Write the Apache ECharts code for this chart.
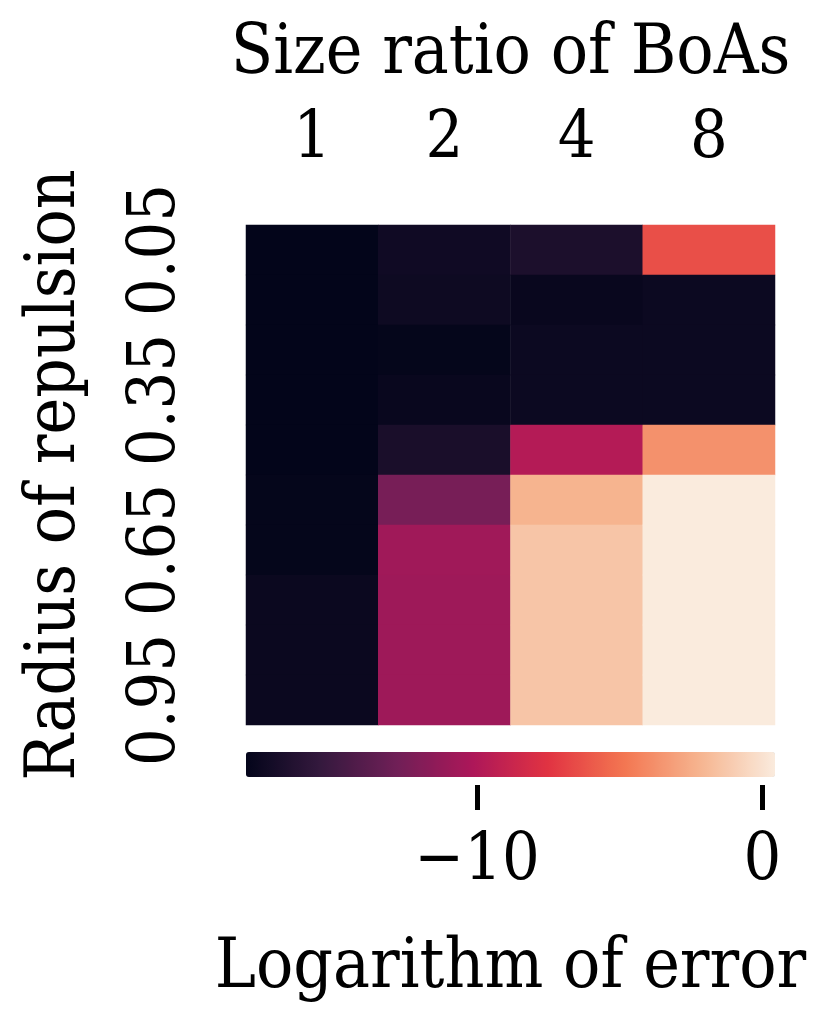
<!DOCTYPE html>
<html>
<head>
<meta charset="utf-8">
<script src="https://cdn.jsdelivr.net/npm/echarts@6/dist/echarts.min.js"></script>
<style>
  html, body { margin: 0; padding: 0; background: #fff; }
  #chart { width: 816px; height: 1021px; }
</style>
</head>
<body>
<div id="chart"></div>
<script>
  // size ratio of the basins (columns) and repulsion radius (rows)
  const ratios = ['1', '2', '4', '8']
  const radii = ['0.05', '0.15', '0.25', '0.35', '0.45', '0.55', '0.65', '0.75', '0.85', '0.95']
  // log of error, one array per size ratio, rows follow radii
  const err1 = [-18.1, -18.1, -18.1, -18.1, -18.1, -18.0, -18.0, -17.7, -17.7, -17.7]
  const err2 = [-17.4, -17.5, -18.0, -17.8, -16.9, -12.5, -10.7, -10.8, -10.8, -10.8]
  const err4 = [-16.8, -17.8, -17.6, -17.6, -9.8, -2.2, -1.4, -1.4, -1.4, -1.4]
  const err8 = [-6.4, -17.6, -17.6, -17.6, -3.7, 0.44, 0.44, 0.44, 0.44, 0.44]
  const cbTicks = [-10, 0]

  const rocket = ['#03051a', '#35193e', '#701f57', '#ad1759', '#e13342', '#f37651', '#f6b48f', '#faebdd']

  let cols = [err1, err2, err4, err8]
  let cells = []
  cols.forEach((col, i) => {
    col.forEach((v, j) => {
      cells.push([i, j, v])
    })
  })
  let all = [].concat(err1, err2, err4, err8)
  let vmin = Math.min.apply(null, all)
  let vmax = Math.max.apply(null, all)

  let tickStyle = { width: 5, color: '#000' }
  function lab (size) { return { fontSize: size, color: '#000', fontFamily: 'DejaVu Serif Condensed' } }

  let myChart = echarts.init(document.getElementById('chart'))
  myChart.setOption({
    animation: false,
    grid: [
      { left: 246, top: 225, width: 529, height: 500, outerBoundsMode: 'none' },
      { left: 246, top: 752, width: 529, height: 33, outerBoundsMode: 'none' }
    ],
    xAxis: [
      {
        type: 'category',
        gridIndex: 0,
        data: ratios,
        position: 'top',
        name: 'Size ratio of BoAs',
        nameLocation: 'middle',
        nameGap: 135,
        nameTextStyle: lab(69),
        axisLine: { show: false },
        axisTick: { alignWithLabel: true, length: 24, lineStyle: tickStyle },
        axisLabel: Object.assign({ margin: 52 }, lab(66)),
        splitLine: { show: false }
      },
      {
        type: 'value',
        gridIndex: 1,
        min: vmin,
        max: vmax,
        position: 'bottom',
        name: 'Logarithm of error',
        nameLocation: 'middle',
        nameGap: 150,
        nameTextStyle: lab(69),
        axisLine: { show: false },
        axisTick: { customValues: cbTicks, length: 25, lineStyle: tickStyle },
        axisLabel: Object.assign({
          customValues: cbTicks,
          margin: 44,
          formatter: function (v) { return v < 0 ? '\u2212' + Math.abs(v) : String(v) }
        }, lab(66)),
        splitLine: { show: false }
      }
    ],
    yAxis: [
      {
        type: 'category',
        gridIndex: 0,
        data: radii,
        inverse: true,
        name: 'Radius of repulsion',
        nameLocation: 'middle',
        nameRotate: 90,
        nameGap: 155,
        nameTextStyle: lab(69),
        axisLine: { show: false },
        axisTick: { alignWithLabel: true, interval: 2, length: 22, lineStyle: tickStyle },
        axisLabel: Object.assign({ interval: 2, rotate: 90, margin: 56 }, lab(66)),
        splitLine: { show: false }
      },
      { type: 'value', gridIndex: 1, show: false, min: 0, max: 1 }
    ],
    visualMap: {
      type: 'continuous',
      seriesIndex: 0,
      min: vmin,
      max: vmax,
      orient: 'horizontal',
      left: 246,
      top: 752,
      padding: 0,
      itemWidth: 25,
      itemHeight: 529,
      calculable: false,
      hoverLink: false,
      inRange: { color: rocket }
    },
    series: [
      {
        type: 'heatmap',
        xAxisIndex: 0,
        yAxisIndex: 0,
        data: cells,
        emphasis: { disabled: true }
      }
    ]
  })
</script>
</body>
</html>
